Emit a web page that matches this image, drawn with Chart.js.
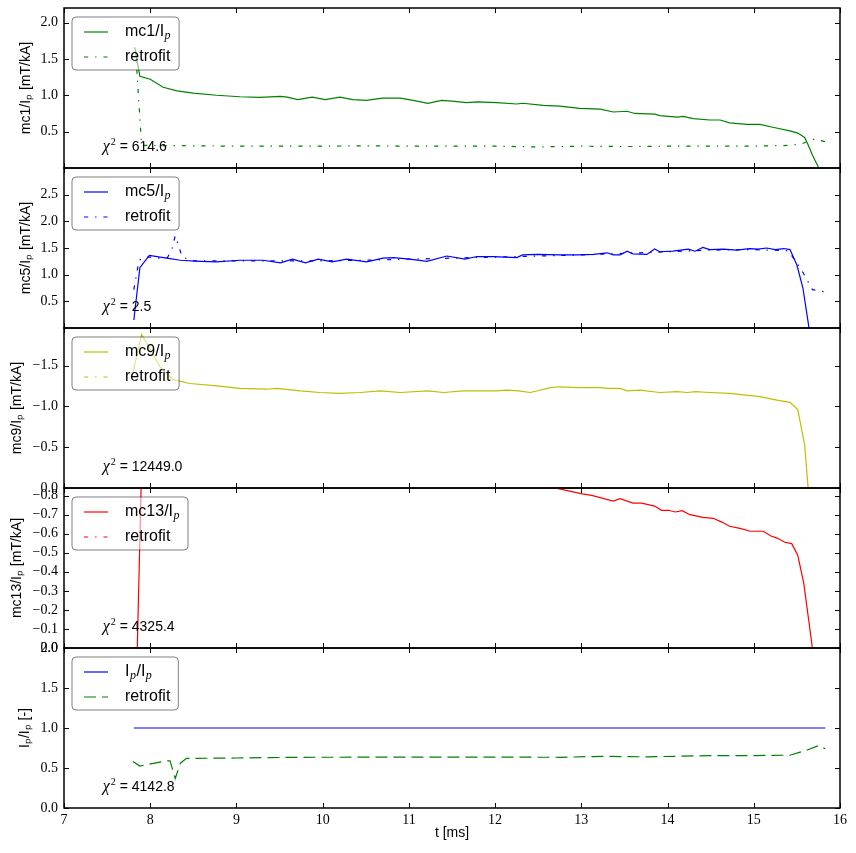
<!DOCTYPE html>
<html>
<head>
<meta charset="utf-8">
<script src="https://cdn.jsdelivr.net/npm/chart.js@4.4.0/dist/chart.umd.min.js"></script>
<style>
  body { margin: 0; background: #fff; }
  #wrap { position: relative; width: 856px; height: 853px; }
  #wrap canvas { position: absolute; left: 0; }
</style>
</head>
<body>
<div id="wrap"></div>
<script>
// time axis ticks [ms]
var tTicks = [7, 8, 9, 10, 11, 12, 13, 14, 15, 16];

// mc1 / Ip
var mc1Time = [7.82, 7.88, 8.00, 8.15, 8.31, 8.50, 8.77, 9.04, 9.27, 9.51, 9.59, 9.71, 9.88, 10.03, 10.20, 10.35, 10.51, 10.69, 10.90, 11.05, 11.22, 11.38, 11.50, 11.67, 11.79, 12.02, 12.25, 12.32, 12.56, 12.75, 12.98, 13.22, 13.37, 13.53, 13.62, 13.85, 13.91, 14.11, 14.18, 14.30, 14.49, 14.61, 14.72, 14.92, 15.07, 15.22, 15.42, 15.51, 15.59, 15.63, 15.68, 15.75];
var mc1Val = [1.66, 1.26, 1.22, 1.11, 1.06, 1.03, 1.00, 0.98, 0.97, 0.985, 0.975, 0.94, 0.975, 0.94, 0.975, 0.94, 0.93, 0.96, 0.96, 0.93, 0.89, 0.93, 0.92, 0.90, 0.91, 0.90, 0.88, 0.89, 0.86, 0.85, 0.82, 0.81, 0.77, 0.78, 0.75, 0.74, 0.72, 0.70, 0.71, 0.68, 0.66, 0.66, 0.62, 0.60, 0.60, 0.56, 0.51, 0.48, 0.42, 0.32, 0.18, 0.01];
var mc1FitTime = [7.83, 7.90, 8.0, 8.5, 9.0, 9.5, 10.0, 10.5, 11.0, 11.5, 12.0, 12.5, 13.0, 13.5, 14.0, 14.5, 15.0, 15.4, 15.55, 15.71, 15.83];
var mc1FitVal = [1.62, 0.31, 0.31, 0.305, 0.30, 0.30, 0.30, 0.305, 0.30, 0.30, 0.30, 0.29, 0.30, 0.295, 0.30, 0.30, 0.30, 0.31, 0.33, 0.40, 0.36];

// mc5 / Ip
var mc5Time = [7.81, 7.88, 7.99, 8.19, 8.35, 8.58, 8.77, 9.04, 9.31, 9.51, 9.65, 9.80, 9.95, 10.11, 10.28, 10.51, 10.70, 10.82, 11.01, 11.21, 11.44, 11.65, 11.79, 11.98, 12.25, 12.32, 12.49, 12.75, 12.95, 13.14, 13.30, 13.37, 13.45, 13.53, 13.60, 13.76, 13.85, 13.91, 14.06, 14.24, 14.32, 14.41, 14.49, 14.65, 14.80, 14.95, 15.05, 15.15, 15.25, 15.35, 15.42, 15.50, 15.57, 15.65];
var mc5Val = [0.15, 1.13, 1.36, 1.31, 1.27, 1.25, 1.24, 1.27, 1.27, 1.22, 1.29, 1.22, 1.29, 1.24, 1.29, 1.24, 1.31, 1.32, 1.29, 1.25, 1.35, 1.29, 1.34, 1.34, 1.32, 1.37, 1.38, 1.37, 1.37, 1.38, 1.41, 1.37, 1.37, 1.44, 1.39, 1.38, 1.48, 1.43, 1.44, 1.48, 1.44, 1.51, 1.47, 1.48, 1.46, 1.49, 1.48, 1.50, 1.47, 1.49, 1.47, 1.18, 0.75, -0.1];
var mc5FitTime = [7.81, 7.87, 7.93, 8.0, 8.1, 8.2, 8.25, 8.29, 8.33, 8.37, 8.5, 9.0, 9.5, 10.0, 10.5, 11.0, 11.5, 12.0, 12.5, 13.0, 13.5, 14.0, 14.5, 15.0, 15.4, 15.55, 15.68, 15.82];
var mc5FitVal = [0.72, 1.27, 1.33, 1.33, 1.31, 1.32, 1.47, 1.73, 1.54, 1.33, 1.26, 1.26, 1.26, 1.26, 1.27, 1.29, 1.31, 1.33, 1.35, 1.37, 1.40, 1.43, 1.46, 1.47, 1.45, 1.10, 0.72, 0.68];

// mc9 / Ip
var mc9Time = [7.80, 7.90, 8.00, 8.11, 8.26, 8.46, 8.77, 9.04, 9.35, 9.47, 9.74, 9.97, 10.20, 10.43, 10.67, 10.90, 11.22, 11.40, 11.63, 12.00, 12.14, 12.27, 12.41, 12.64, 12.75, 12.98, 13.22, 13.30, 13.45, 13.53, 13.68, 13.91, 14.11, 14.23, 14.32, 14.49, 14.72, 15.07, 15.30, 15.42, 15.51, 15.59, 15.63];
var mc9Val = [-1.42, -1.88, -1.70, -1.49, -1.33, -1.28, -1.25, -1.22, -1.21, -1.22, -1.19, -1.17, -1.16, -1.17, -1.19, -1.17, -1.19, -1.17, -1.19, -1.19, -1.20, -1.19, -1.17, -1.23, -1.24, -1.23, -1.23, -1.22, -1.22, -1.19, -1.20, -1.17, -1.18, -1.17, -1.18, -1.17, -1.16, -1.12, -1.07, -1.05, -0.96, -0.53, 0.0];
var mc9FitTime = [];
var mc9FitVal = [];

// mc13 / Ip
var mc13Time = [7.85, 7.90, 8.0, 9.0, 10.0, 11.0, 12.0, 12.5, 12.72, 13.01, 13.12, 13.37, 13.45, 13.60, 13.70, 13.85, 13.93, 14.01, 14.09, 14.17, 14.26, 14.41, 14.53, 14.63, 14.72, 14.84, 14.96, 15.11, 15.20, 15.27, 15.36, 15.44, 15.51, 15.58, 15.68];
var mc13Val = [0.0, -0.95, -1.0, -1.0, -0.98, -0.95, -0.91, -0.86, -0.838, -0.809, -0.801, -0.771, -0.784, -0.761, -0.761, -0.745, -0.723, -0.723, -0.714, -0.721, -0.700, -0.686, -0.681, -0.661, -0.639, -0.628, -0.613, -0.613, -0.588, -0.577, -0.555, -0.548, -0.487, -0.339, 0.0];
var mc13FitTime = [];
var mc13FitVal = [];

// Ip / Ip
var ipTime = [7.81, 9.0, 11.0, 13.0, 15.0, 15.83];
var ipVal = [1, 1, 1, 1, 1, 1];
var ipFitTime = [7.80, 7.88, 8.19, 8.23, 8.29, 8.35, 8.42, 9.0, 9.74, 10.5, 11.5, 12.75, 13.25, 13.75, 14.49, 15.0, 15.42, 15.62, 15.75, 15.83];
var ipFitVal = [0.58, 0.525, 0.59, 0.59, 0.37, 0.56, 0.62, 0.625, 0.634, 0.635, 0.637, 0.634, 0.646, 0.64, 0.654, 0.655, 0.66, 0.725, 0.78, 0.74];

// y ticks per panel
var mc1Ticks = [0.5, 1.0, 1.5, 2.0];
var mc5Ticks = [0.5, 1.0, 1.5, 2.0, 2.5];
var mc9Ticks = [-1.5, -1.0, -0.5, 0.0];
var mc13Ticks = [-0.8, -0.7, -0.6, -0.5, -0.4, -0.3, -0.2, -0.1, 0.0];
var ipTicks = [0.0, 0.5, 1.0, 1.5, 2.0];

var chiValues = ['614.6', '2.5', '12449.0', '4325.4', '4142.8'];

var dashDot = [4.2, 6.9, 1.4, 6.9];
var dashed = [12, 6];

var panels = [
    { label: 'mc1/I_p', title: 'mc1/I\u209a [mT/kA]', t: mc1Time, v: mc1Val, ft: mc1FitTime, fv: mc1FitVal,
      color: '#008000', fitColor: '#008000', dash: dashDot, min: 0, max: 2.2, rev: false, ticks: mc1Ticks, titlePad: 18 },
    { label: 'mc5/I_p', title: 'mc5/I\u209a [mT/kA]', t: mc5Time, v: mc5Val, ft: mc5FitTime, fv: mc5FitVal,
      color: '#0000ff', fitColor: '#0000ff', dash: dashDot, min: 0, max: 3.0, rev: false, ticks: mc5Ticks, titlePad: 18 },
    { label: 'mc9/I_p', title: 'mc9/I\u209a [mT/kA]', t: mc9Time, v: mc9Val, ft: mc9FitTime, fv: mc9FitVal,
      color: '#bfbf00', fitColor: '#bfbf00', dash: dashDot, min: -1.96, max: 0, rev: true, ticks: mc9Ticks, titlePad: 9 },
    { label: 'mc13/I_p', title: 'mc13/I\u209a [mT/kA]', t: mc13Time, v: mc13Val, ft: mc13FitTime, fv: mc13FitVal,
      color: '#ff0000', fitColor: '#ff0000', dash: dashDot, min: -0.84, max: 0, rev: true, ticks: mc13Ticks, titlePad: 9 },
    { label: 'I_p/I_p', title: 'I\u209a/I\u209a [-]', t: ipTime, v: ipVal, ft: ipFitTime, fv: ipFitVal,
      color: '#0000ff', fitColor: '#008000', dash: dashed, min: 0, max: 2.0, rev: false, ticks: ipTicks, titlePad: 17 }
];

function pairs(ts, vs) {
    return ts.map(function (t, i) { return { x: t, y: vs[i] }; });
}

function fmt(v) {
    return v.toFixed(1).replace('-', '\u2212');
}

// text with "_p" drawn as an italic subscript
function richWidth(ctx, text) {
    var parts = text.split('_p');
    var w = 0;
    parts.forEach(function (s, i) {
        ctx.font = '16px "Liberation Sans"';
        w += ctx.measureText(s).width;
        if (i < parts.length - 1) {
            ctx.font = 'italic 12px "Liberation Serif"';
            w += ctx.measureText('p').width + 1;
        }
    });
    return w;
}

function drawRich(ctx, text, x, y) {
    var parts = text.split('_p');
    parts.forEach(function (s, i) {
        ctx.font = '16px "Liberation Sans"';
        ctx.fillText(s, x, y);
        x += ctx.measureText(s).width;
        if (i < parts.length - 1) {
            ctx.font = 'italic 12px "Liberation Serif"';
            ctx.fillText('p', x + 0.5, y + 4);
            x += ctx.measureText('p').width + 1;
        }
    });
}

function roundBox(ctx, x, y, w, h, r) {
    ctx.beginPath();
    ctx.moveTo(x + r, y);
    ctx.arcTo(x + w, y, x + w, y + h, r);
    ctx.arcTo(x + w, y + h, x, y + h, r);
    ctx.arcTo(x, y + h, x, y, r);
    ctx.arcTo(x, y, x + w, y, r);
    ctx.closePath();
}

var deco = {
    id: 'deco',
    afterDatasetsDraw: function (chart, args, opts) {
        var ctx = chart.ctx, a = chart.chartArea;
        var xs = chart.scales.x, ys = chart.scales.y;
        var w = a.right - a.left, h = a.bottom - a.top;
        ctx.save();

        // legend
        var ds = chart.data.datasets;
        var bx = a.left + 8, by = a.top + 9;
        var tw = 0;
        ds.forEach(function (d) { tw = Math.max(tw, richWidth(ctx, d.label)); });
        var bw = 53 + tw + 8, bh = 53;
        roundBox(ctx, bx, by, bw, bh, 4);
        ctx.fillStyle = 'rgba(255,255,255,0.55)';
        ctx.fill();
        ctx.strokeStyle = 'rgba(0,0,0,0.5)';
        ctx.lineWidth = 1;
        ctx.stroke();
        ds.forEach(function (d, i) {
            var ry = by + 15 + i * 25;
            ctx.beginPath();
            ctx.setLineDash(d.borderDash || []);
            ctx.strokeStyle = d.borderColor;
            ctx.lineWidth = d.borderWidth;
            ctx.moveTo(bx + 12, ry);
            ctx.lineTo(bx + 36, ry);
            ctx.stroke();
            ctx.setLineDash([]);
            ctx.fillStyle = '#000';
            ctx.textBaseline = 'middle';
            ctx.textAlign = 'left';
            drawRich(ctx, d.label, bx + 53, ry);
        });

        // chi^2 note
        var cx = a.left + 0.05 * w, cy = a.bottom - 0.1 * h - 1;
        ctx.textBaseline = 'alphabetic';
        ctx.fillStyle = '#000';
        ctx.font = 'italic 16px "Liberation Serif"';
        ctx.fillText('\u03c7', cx, cy);
        cx += ctx.measureText('\u03c7').width + 1;
        ctx.font = '10px "Liberation Serif"';
        ctx.fillText('2', cx, cy - 6);
        cx += ctx.measureText('2').width;
        ctx.font = '14px "Liberation Sans"';
        ctx.fillText(' = ' + opts.chi, cx, cy);

        // frame and inward ticks
        ctx.strokeStyle = '#000';
        ctx.lineWidth = 1.5;
        ctx.strokeRect(a.left, a.top, w, h);
        ctx.lineWidth = 1;
        ctx.beginPath();
        xs.ticks.forEach(function (t) {
            var px = Math.round(xs.getPixelForValue(t.value)) + 0.5;
            ctx.moveTo(px, a.top); ctx.lineTo(px, a.top + 5);
            ctx.moveTo(px, a.bottom); ctx.lineTo(px, a.bottom - 5);
        });
        ys.ticks.forEach(function (t) {
            var py = Math.round(ys.getPixelForValue(t.value)) + 0.5;
            ctx.moveTo(a.left, py); ctx.lineTo(a.left + 5, py);
            ctx.moveTo(a.right, py); ctx.lineTo(a.right - 5, py);
        });
        ctx.stroke();
        ctx.restore();
    }
};

function addPanel(p, i) {
    var last = i === panels.length - 1;
    var top = 8 + 160 * i;
    var pad = 12;
    var cv = document.createElement('canvas');
    cv.width = 856;
    cv.height = last ? 853 - (top - pad) : 160 + 2 * pad;
    cv.style.top = (top - pad) + 'px';
    document.getElementById('wrap').appendChild(cv);

    new Chart(cv, {
        type: 'line',
        data: {
            datasets: [
                { label: p.label, data: pairs(p.t, p.v), borderColor: p.color, borderWidth: 1.2, pointRadius: 0, borderDash: [] },
                { label: 'retrofit', data: pairs(p.ft, p.fv), borderColor: p.fitColor, borderWidth: 1.2, pointRadius: 0, borderDash: p.dash }
            ]
        },
        options: {
            responsive: false,
            animation: false,
            devicePixelRatio: 1,
            layout: { padding: { left: 0, right: 16, top: pad, bottom: last ? 0 : pad } },
            plugins: {
                legend: { display: false },
                tooltip: { enabled: false },
                deco: { chi: chiValues[i] }
            },
            scales: {
                x: {
                    type: 'linear', min: 7, max: 16,
                    afterBuildTicks: function (s) { s.ticks = tTicks.map(function (v) { return { value: v }; }); },
                    afterFit: function (s) {
                        s.height = last ? 45 : 0;
                        s.paddingLeft = 0; s.paddingRight = 0;
                    },
                    grid: { display: false, drawTicks: false },
                    border: { display: false },
                    ticks: {
                        display: last, padding: 4, color: '#000',
                        font: { family: '"Liberation Serif"', size: 14 },
                        callback: function (v) { return String(v); }
                    },
                    title: {
                        display: last, text: 't [ms]', color: '#000',
                        font: { family: '"Liberation Sans"', size: 14 },
                        padding: { top: 0, bottom: 11.6 }
                    }
                },
                y: {
                    min: p.min, max: p.max, reverse: p.rev,
                    afterBuildTicks: function (s) { s.ticks = p.ticks.map(function (v) { return { value: v }; }); },
                    afterFit: function (s) {
                        s.width = 64;
                        s.paddingTop = 0; s.paddingBottom = 0;
                    },
                    grid: { display: false, drawTicks: false },
                    border: { display: false },
                    ticks: {
                        padding: 6, color: '#000',
                        font: { family: '"Liberation Serif"', size: 14 },
                        callback: function (v) { return fmt(v); }
                    },
                    title: {
                        display: true, text: p.title, color: '#000',
                        font: { family: '"Liberation Sans"', size: 14 },
                        padding: { top: p.titlePad, bottom: 0 }
                    }
                }
            }
        },
        plugins: [deco]
    });
}

panels.forEach(addPanel);
</script>
</body>
</html>
